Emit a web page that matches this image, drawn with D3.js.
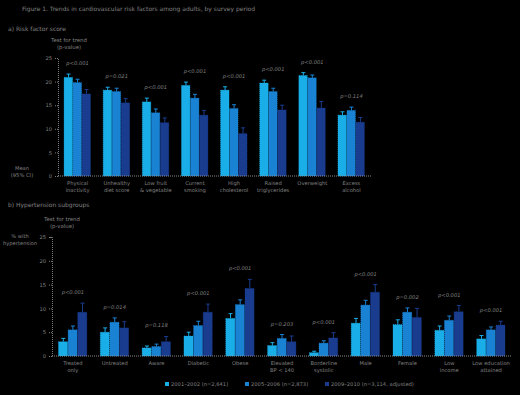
<!DOCTYPE html>
<html><head><meta charset="utf-8">
<script src="https://cdn.jsdelivr.net/npm/d3@7"></script>
<style>
html,body{margin:0;padding:0;background:#000;}
svg{display:block;}
text{font-family:"DejaVu Sans",sans-serif;fill:#808080;}
</style></head><body>
<script>
// ---- data ----
const titleText = "Figure 1. Trends in cardiovascular risk factors among adults, by survey period";
const seriesNames = ["2001\u20132002 (n=2,641)", "2005\u20132006 (n=2,873)", "2009\u20132010 (n=3,114, adjusted)"];
const seriesColors = ["#1aaee8", "#1a82d2", "#1a3c8e"];

const topPanelLabel = "a) Risk factor score";
const topCategories = [["Physical","inactivity"],["Unhealthy","diet score"],["Low fruit","& vegetable"],["Current","smoking"],["High","cholesterol"],["Raised","triglycerides"],["Overweight",""],["Excess","alcohol"]];
const topS1 = [20.9, 18.2, 15.7, 19.2, 18.2, 19.7, 21.3, 12.9];
const topS2 = [19.8, 17.9, 13.4, 16.5, 14.3, 17.9, 20.8, 13.9];
const topS3 = [17.4, 15.5, 11.3, 12.9, 9.0, 14.0, 14.4, 11.4];
const topE1 = [0.7, 0.6, 0.8, 0.7, 0.7, 0.6, 0.6, 0.7];
const topE2 = [0.7, 0.7, 0.8, 0.8, 0.8, 0.7, 0.6, 0.7];
const topE3 = [0.9, 0.9, 1.0, 1.0, 1.2, 1.0, 1.4, 1.0];
const topPvals = ["p<0.001","p=0.021","p<0.001","p<0.001","p<0.001","p<0.001","p<0.001","p=0.114"];
const topTicks = [0, 5, 10, 15, 20, 25];

const bottomPanelLabel = "b) Hypertension subgroups";
const bottomCategories = [["Treated","only"],["Untreated",""],["Aware",""],["Diabetic",""],["Obese",""],["Elevated","BP < 140"],["Borderline","systolic"],["Male",""],["Female",""],["Low","income"],["Low education","attained"]];
const botS1 = [3.0, 5.0, 1.7, 4.2, 7.9, 2.2, 0.7, 6.9, 6.6, 5.4, 3.6];
const botS2 = [5.5, 7.1, 2.0, 6.4, 10.8, 3.7, 2.7, 10.7, 9.2, 7.5, 5.5];
const botS3 = [9.2, 5.9, 3.0, 9.2, 14.2, 3.0, 3.8, 13.4, 8.1, 9.3, 6.5];
const botE1 = [0.7, 0.9, 0.4, 0.8, 1.0, 0.6, 0.3, 1.0, 1.0, 0.9, 0.7];
const botE2 = [0.8, 0.9, 0.5, 0.9, 1.0, 0.8, 0.5, 1.0, 0.9, 0.9, 0.6];
const botE3 = [1.9, 1.3, 1.1, 1.7, 1.9, 1.2, 1.1, 1.6, 1.9, 1.3, 0.8];
const botPvals = ["p<0.001","p=0.014","p=0.118","p<0.001","p<0.001","p=0.203","p<0.001","p<0.001","p=0.002","p<0.001","p<0.001"];
const botTicks = [0, 5, 10, 15, 20, 25];

const W = 520, H = 395;
const svg = d3.select("body").append("svg").attr("width", W).attr("height", H);
svg.append("rect").attr("width", W).attr("height", H).attr("fill", "#000");

svg.append("text").attr("x", 22).attr("y", 11).attr("font-size", 6).text(titleText);

function panel(opt) {
  const {x0, x1, y0, y1, cats, vals, errs, pvals, ticks, label, labelY, header, yTitle} = opt;
  const g = svg.append("g");
  const x = d3.scaleBand().domain(d3.range(cats.length)).range([x0, x1]).paddingInner(0.31).paddingOuter(0.155);
  const xs = d3.scaleBand().domain([0,1,2]).range([0, x.bandwidth()]).padding(0);
  const y = d3.scaleLinear().domain([0, 25]).range([y1, y0]);

  g.append("text").attr("x", 8).attr("y", labelY).attr("font-size", 6).text(label);
  header.forEach((t, i) => g.append("text").attr("x", opt.headerX).attr("y", y0 - 16 + i * 7).attr("font-size", 5.4).attr("text-anchor", "middle").text(t));
  yTitle.forEach((t, i) => g.append("text").attr("x", opt.yTitleX).attr("y", opt.yTitleY + i * 7).attr("font-size", 5.2).attr("text-anchor", "middle").text(t));

  // axes
  const ya = d3.axisLeft(y).tickValues(ticks).tickSize(3).tickFormat(d3.format("d"));
  const ag = g.append("g").attr("transform", `translate(${x0},0)`).call(ya);
  ag.selectAll("path,line").attr("stroke", "#7a7a7a").attr("stroke-dasharray", "1,1");
  ag.selectAll("text").attr("font-size", 5.2).attr("fill", "#808080").attr("font-family", "DejaVu Sans");

  cats.forEach((c, i) => {
    for (let s = 0; s < 3; s++) {
      const v = vals[s][i], e = errs[s][i];
      const bx = x(i) + xs(s), bw = xs.bandwidth();
      g.append("rect").attr("x", bx).attr("y", y(v)).attr("width", bw - 0.5).attr("height", y(0) - y(v))
        .attr("fill", seriesColors[s]).attr("stroke", d3.color(seriesColors[s]).brighter(0.3)).attr("stroke-width", 0.5).attr("stroke-dasharray", "1,1");
      const cx = bx + bw / 2;
      g.append("line").attr("x1", cx).attr("x2", cx).attr("y1", y(v)).attr("y2", y(v + e)).attr("stroke", seriesColors[s]).attr("stroke-width", 1);
      g.append("line").attr("x1", cx - 2).attr("x2", cx + 2).attr("y1", y(v + e)).attr("y2", y(v + e)).attr("stroke", seriesColors[s]).attr("stroke-width", 1);
    }
    const top = d3.max([0,1,2], s => vals[s][i] + errs[s][i]);
    g.append("text").attr("x", x(i) + x.bandwidth() / 2).attr("y", y(top) - 9).attr("font-size", 5.2)
      .attr("text-anchor", "middle").attr("font-style", "italic").text(pvals[i]);
    c.forEach((t, k) => g.append("text").attr("x", x(i) + x.bandwidth() / 2).attr("y", y1 + 9 + k * 7)
      .attr("font-size", 5.2).attr("text-anchor", "middle").text(t));
  });

  g.append("line").attr("x1", x0).attr("x2", x1).attr("y1", y1).attr("y2", y1).attr("stroke", "#8a8a8a").attr("stroke-dasharray", "1,1");
}

panel({x0: 58, x1: 371, y0: 58, y1: 176, cats: topCategories,
  vals: [topS1, topS2, topS3], errs: [topE1, topE2, topE3], pvals: topPvals, ticks: topTicks,
  label: topPanelLabel, labelY: 31, header: ["Test for trend", "(p-value)"], headerX: 69,
  yTitle: ["Mean", "(95% CI)"], yTitleX: 22, yTitleY: 170});

panel({x0: 52, x1: 512, y0: 237, y1: 356, cats: bottomCategories,
  vals: [botS1, botS2, botS3], errs: [botE1, botE2, botE3], pvals: botPvals, ticks: botTicks,
  label: bottomPanelLabel, labelY: 207, header: ["Test for trend", "(p-value)"], headerX: 62,
  yTitle: ["% with", "hypertension"], yTitleX: 20, yTitleY: 238});

// legend
const lx = [165, 245, 325];
seriesNames.forEach((n, i) => {
  svg.append("rect").attr("x", lx[i]).attr("y", 382).attr("width", 4).attr("height", 4).attr("fill", seriesColors[i]);
  svg.append("text").attr("x", lx[i] + 6).attr("y", 386).attr("font-size", 5.2).text(n);
});
</script>
</body></html>
